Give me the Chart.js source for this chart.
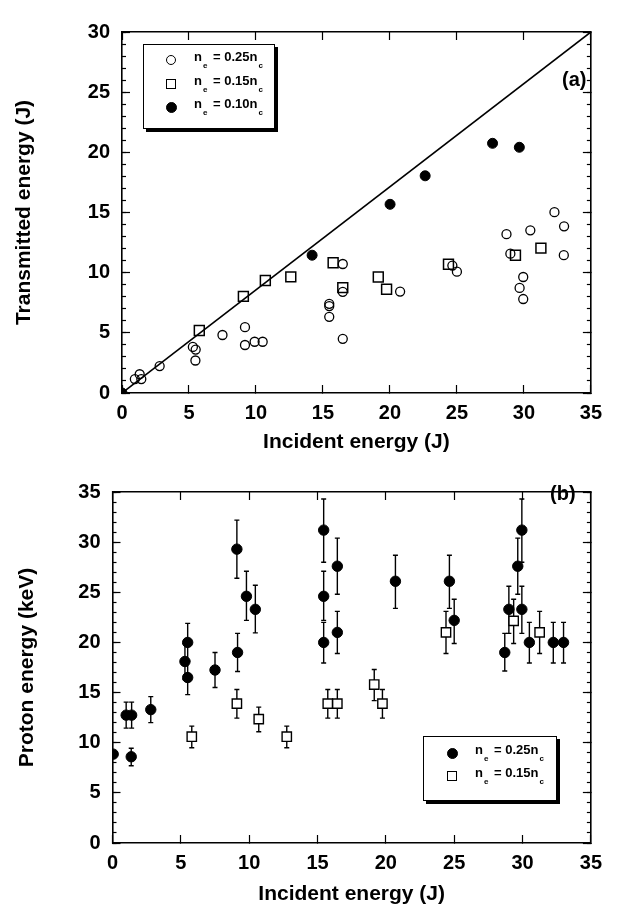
<!DOCTYPE html>
<html>
<head>
<meta charset="utf-8">
<script src="https://cdn.jsdelivr.net/npm/chart.js@4.4.1/dist/chart.umd.min.js"></script>
<style>
  body { margin: 0; background: #fff; }
  #wrap { position: relative; width: 618px; height: 907px; background: #fff; font-family: 'Liberation Sans', Arial, sans-serif; font-weight: bold; color: #000; }
  canvas { position: absolute; left: 0; }
  .legend { position: absolute; border: 1.6px solid #000; box-shadow: 3px 3px 0 #000; background: #fff; box-sizing: border-box; }
  .row { position: absolute; left: 0; right: 0; height: 20px; font-size: 13px; line-height: 20px; }
  .row .txt { position: absolute; top: -3px; white-space: nowrap; }
  .row sub { font-size: 8px; vertical-align: -7px; margin-left: 1px; margin-right: 2px; }
  .mk { position: absolute; top: 50%; box-sizing: border-box; border: 1.4px solid #000; }
  .mk.open { width: 10px; height: 10px; border-radius: 50%; margin: -5px 0 0 -5px; }
  .mk.fill { width: 11px; height: 11px; border-radius: 50%; margin: -5.5px 0 0 -5.5px; background: #000; }
  .mk.sq { width: 10px; height: 10px; margin: -5px 0 0 -5px; background: #fff; }
  .panel { position: absolute; font-size: 20px; line-height: 20px; }
</style>
</head>
<body>
<div id="wrap">
  <canvas id="chartA" width="618" height="460" style="top:0"></canvas>
  <canvas id="chartB" width="618" height="447" style="top:460px"></canvas>

  <div class="legend" style="left:143px; top:44px; width:132px; height:85px;">
    <div class="row" style="top:5px;"><span class="mk open" style="left:27px"></span><span class="txt" style="left:50px">n<sub>e</sub> = 0.25n<sub>c</sub></span></div>
    <div class="row" style="top:29px;"><span class="mk sq" style="left:27px"></span><span class="txt" style="left:50px">n<sub>e</sub> = 0.15n<sub>c</sub></span></div>
    <div class="row" style="top:52px;"><span class="mk fill" style="left:27px"></span><span class="txt" style="left:50px">n<sub>e</sub> = 0.10n<sub>c</sub></span></div>
  </div>
  <div class="panel" style="left:562px; top:69px;">(a)</div>

  <div class="legend" style="left:423px; top:736px; width:134px; height:65px;">
    <div class="row" style="top:6px;"><span class="mk fill" style="left:28px"></span><span class="txt" style="left:51px">n<sub>e</sub> = 0.25n<sub>c</sub></span></div>
    <div class="row" style="top:29px;"><span class="mk sq" style="left:28px"></span><span class="txt" style="left:51px">n<sub>e</sub> = 0.15n<sub>c</sub></span></div>
  </div>
  <div class="panel" style="left:550px; top:483px;">(b)</div>
</div>

<script>
// ---- panel (a): transmitted vs incident energy ----
const aCircleX = [0.96, 1.32, 1.44, 2.81, 5.29, 5.5, 5.48, 7.5, 9.18, 9.18, 9.9, 10.5, 15.47, 15.47, 15.47, 16.48, 16.48, 16.48, 20.76, 24.66, 25.0, 28.7, 28.99, 29.68, 29.95, 29.95, 30.48, 32.28, 33.0, 32.98];
const aCircleY = [1.16, 1.56, 1.16, 2.24, 3.83, 3.61, 2.7, 4.82, 5.47, 3.99, 4.26, 4.26, 7.41, 7.22, 6.33, 10.72, 8.41, 4.5, 8.43, 10.59, 10.08, 13.2, 11.58, 8.73, 9.64, 7.81, 13.52, 15.03, 13.85, 11.45];
const aSquareX = [5.77, 9.06, 10.7, 12.6, 15.76, 16.48, 19.13, 19.75, 24.37, 29.37, 31.27];
const aSquareY = [5.2, 8.03, 9.35, 9.65, 10.83, 8.76, 9.64, 8.62, 10.7, 11.45, 12.04];
const aFilledX = [0, 14.19, 20.01, 22.63, 27.66, 29.66];
const aFilledY = [0, 11.45, 15.68, 18.05, 20.75, 20.42];
const diagX = [0, 35];
const diagY = [0, 30];

// ---- panel (b): proton energy vs incident energy ----
const bFilledX  = [0.05, 1.0, 1.4, 1.37, 2.8, 5.3, 5.5, 5.5, 7.5, 9.1, 9.15, 9.8, 10.45, 15.45, 15.45, 15.45, 16.45, 16.45, 20.7, 24.65, 25.0, 28.7, 29.0, 29.65, 29.95, 29.95, 30.5, 32.25, 33.0];
const bFilledY  = [8.86, 12.75, 12.75, 8.6, 13.3, 18.1, 20.0, 16.5, 17.25, 29.3, 19.0, 24.6, 23.3, 31.2, 24.6, 20.0, 27.6, 21.0, 26.1, 26.1, 22.2, 19.0, 23.3, 27.6, 31.2, 23.3, 20.0, 20.0, 20.0];
const bFilledHi = [null, 14.05, 14.05, 9.45, 14.6, 19.9, 21.9, 18.2, 19.0, 32.2, 20.9, 27.1, 25.7, 34.3, 27.1, 22.0, 30.4, 23.1, 28.7, 28.7, 24.3, 20.9, 25.6, 30.4, 34.3, 25.6, 22.0, 22.0, 22.0];
const bFilledLo = [null, 11.45, 11.45, 7.7, 12.0, 16.3, 18.1, 14.8, 15.5, 26.4, 17.1, 22.2, 20.95, 28.0, 22.2, 17.95, 24.8, 18.9, 23.4, 23.4, 19.9, 17.15, 20.9, 24.8, 28.0, 20.9, 17.95, 17.95, 17.95];
const bSquareX  = [5.8, 9.1, 10.7, 12.75, 15.75, 16.45, 19.15, 19.75, 24.4, 29.35, 31.25];
const bSquareY  = [10.6, 13.9, 12.35, 10.6, 13.9, 13.9, 15.8, 13.9, 21.0, 22.15, 21.0];
const bSquareHi = [11.65, 15.3, 13.55, 11.65, 15.3, 15.3, 17.3, 15.3, 23.1, 24.3, 23.1];
const bSquareLo = [9.5, 12.45, 11.1, 9.5, 12.45, 12.45, 14.2, 12.45, 18.9, 19.9, 18.9];

const xTicks = 5;
const xMax = 35;

Chart.defaults.font.family = "'Liberation Sans', Arial, sans-serif";
Chart.defaults.color = '#000';

function pts(xs, ys) {
    return xs.map((x, i) => ({ x: x, y: ys[i] }));
}

// vertical error bars, drawn under the markers
const errorBars = {
    id: 'errorBars',
    beforeDatasetsDraw(chart) {
        const ctx = chart.ctx;
        const xs = chart.scales.x, ys = chart.scales.y;
        ctx.save();
        ctx.strokeStyle = '#000';
        ctx.lineWidth = 1.4;
        chart.data.datasets.forEach(ds => {
            if (!ds.errHi) return;
            ds.data.forEach((p, i) => {
                if (ds.errHi[i] == null) return;
                const px = xs.getPixelForValue(p.x);
                const top = ys.getPixelForValue(ds.errHi[i]);
                const bot = ys.getPixelForValue(ds.errLo[i]);
                ctx.beginPath();
                ctx.moveTo(px, top); ctx.lineTo(px, bot);
                ctx.moveTo(px - 2.5, top); ctx.lineTo(px + 2.5, top);
                ctx.moveTo(px - 2.5, bot); ctx.lineTo(px + 2.5, bot);
                ctx.stroke();
            });
        });
        ctx.restore();
    }
};

// axes: labelled major axes plus unlabeled mirror / minor tick axes, ticks drawn inward
function makeScales(yMax, yTitle, yWidth, xHeight, yTitlePad, xTitlePad) {
    const tickFont = { size: 20, weight: 'bold' };
    const titleFont = { size: 21, weight: 'bold' };
    const border = { display: true, color: '#000', width: 1.6 };
    const inner = (len) => ({ drawOnChartArea: false, drawTicks: true, tickLength: -len, tickColor: '#000', tickWidth: 1.2 });
    return {
        x: {
            type: 'linear', position: 'bottom', min: 0, max: xMax,
            ticks: { stepSize: xTicks, font: tickFont, padding: 16, maxRotation: 0 },
            grid: inner(8), border: border,
            title: { display: true, text: 'Incident energy (J)', font: titleFont, padding: { top: 0, bottom: xTitlePad } },
            afterFit: s => { s.height = xHeight; }
        },
        xTop: {
            type: 'linear', position: 'top', min: 0, max: xMax,
            ticks: { display: false, stepSize: xTicks },
            grid: inner(8), border: border,
            afterFit: s => { s.height = 0; }
        },
        y: {
            type: 'linear', position: 'left', min: 0, max: yMax, weight: 1,
            ticks: { stepSize: 5, font: tickFont, padding: 20 },
            grid: inner(8), border: border,
            title: { display: true, text: yTitle, font: titleFont, padding: { top: yTitlePad, bottom: 0 } },
            afterFit: s => { s.width = yWidth; }
        },
        yMinor: {
            type: 'linear', position: 'left', min: 0, max: yMax, weight: 0,
            ticks: { display: false, stepSize: 1 },
            grid: inner(4), border: { display: false },
            afterFit: s => { s.width = 0; }
        },
        yRight: {
            type: 'linear', position: 'right', min: 0, max: yMax, weight: 0,
            ticks: { display: false, stepSize: 5 },
            grid: inner(8), border: border,
            afterFit: s => { s.width = 0; }
        },
        yRightMinor: {
            type: 'linear', position: 'right', min: 0, max: yMax, weight: 1,
            ticks: { display: false, stepSize: 1 },
            grid: inner(4), border: { display: false },
            afterFit: s => { s.width = 0; }
        }
    };
}

const commonPlugins = { legend: { display: false }, tooltip: { enabled: false } };

new Chart(document.getElementById('chartA'), {
    type: 'scatter',
    data: {
        datasets: [
            {
                type: 'line', label: 'diagonal', data: pts(diagX, diagY),
                borderColor: '#000', borderWidth: 1.6, pointRadius: 0, fill: false
            },
            {
                label: 'ne = 0.25nc', data: pts(aCircleX, aCircleY), pointStyle: 'circle',
                pointRadius: 4.5, borderColor: '#000', backgroundColor: 'rgba(0,0,0,0)', borderWidth: 1.3
            },
            {
                label: 'ne = 0.15nc', data: pts(aSquareX, aSquareY), pointStyle: 'rect',
                pointRadius: 7, borderColor: '#000', backgroundColor: 'rgba(0,0,0,0)', borderWidth: 1.5
            },
            {
                label: 'ne = 0.10nc', data: pts(aFilledX, aFilledY), pointStyle: 'circle',
                pointRadius: 5, borderColor: '#000', backgroundColor: '#000', borderWidth: 1
            }
        ]
    },
    options: {
        responsive: false, animation: false, devicePixelRatio: 1,
        layout: { padding: { left: 0, right: 11, top: 22, bottom: 0 } },
        scales: makeScales(30, 'Transmitted energy (J)', 122, 67, 12, 5),
        plugins: commonPlugins
    }
});

new Chart(document.getElementById('chartB'), {
    type: 'scatter',
    data: {
        datasets: [
            {
                label: 'ne = 0.25nc', data: pts(bFilledX, bFilledY), errHi: bFilledHi, errLo: bFilledLo,
                pointStyle: 'circle', pointRadius: 5.2, borderColor: '#000', backgroundColor: '#000', borderWidth: 1
            },
            {
                label: 'ne = 0.15nc', data: pts(bSquareX, bSquareY), errHi: bSquareHi, errLo: bSquareLo,
                pointStyle: 'rect', pointRadius: 6.6, borderColor: '#000', backgroundColor: '#fff', borderWidth: 1.4
            }
        ]
    },
    options: {
        responsive: false, animation: false, devicePixelRatio: 1,
        layout: { padding: { left: 0, right: 20, top: 10, bottom: 0 } },
        scales: makeScales(35, 'Proton energy (keV)', 112.5, 64, 15, 0),
        plugins: commonPlugins
    },
    plugins: [errorBars]
});
</script>
</body>
</html>
